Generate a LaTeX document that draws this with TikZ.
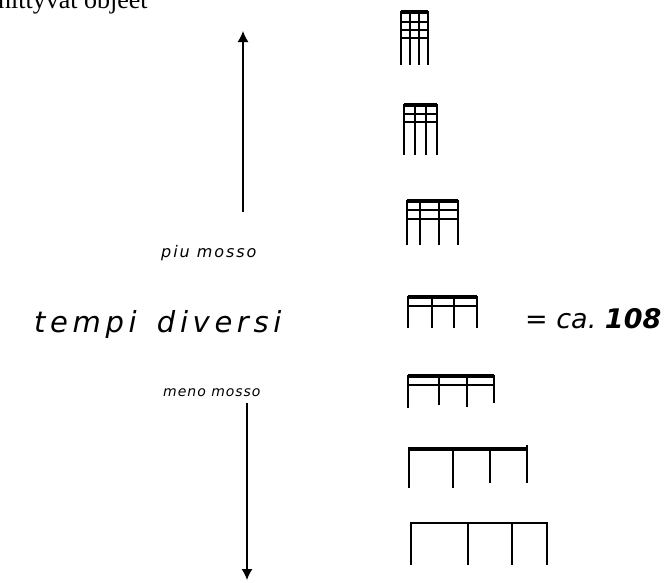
\documentclass[tikz,border=0pt]{standalone}
\usepackage{fontspec}
\usetikzlibrary{arrows.meta}
\newfontfamily\capfont{Liberation Serif}
\newfontfamily\handfont{DejaVu Sans}
\tikzset{
  stem/.style={line width=1.8pt},
  beam/.style={line width=2.8pt},
  heavybeam/.style={line width=4pt},
  tempoarrow/.style={line width=1.3pt,-{Latex[length=11pt,width=11pt]}},
  hand/.style={inner sep=0pt,anchor=base west,font=#1},
}
\begin{document}
\begin{tikzpicture}[x=1pt,y=-1pt]
\useasboundingbox (0,0) rectangle (671,582);

\node[inner sep=0pt,anchor=base west,font=\capfont\fontsize{26}{26}\selectfont] (caption) at (-2,8) {nittyvat objeet};

% arrows
\coordinate (upfoot) at (243,212);
\coordinate (uptip) at (243,31);
\coordinate (downfoot) at (247,403);
\coordinate (downtip) at (247,580);
\draw[tempoarrow] (upfoot) -- (uptip);
\draw[tempoarrow] (downfoot) -- (downtip);

\node[hand={\handfont\fontsize{16}{16}\selectfont\itshape\addfontfeature{LetterSpace=12}}] (piu) at (161,257) {piu mosso};
\node[hand={\handfont\fontsize{29}{29}\selectfont\itshape\addfontfeature{LetterSpace=16}}] (tempi) at (34,332) {tempi\hspace{0.7em}diversi};
\node[hand={\handfont\fontsize{14}{14}\selectfont\itshape\addfontfeature{LetterSpace=7}}] (meno) at (163,396) {meno mosso};
\node[hand={\handfont\fontsize{27}{27}\selectfont\itshape}] (mm) at (525,328) {= ca.\ \textbf{108}};

% figure 1
\draw[heavybeam] (401,12) -- (428,12);
\draw[beam] (401,22) -- (428,22);
\draw[beam] (401,30) -- (428,30);
\draw[beam] (401,38) -- (428,38);
\draw[stem] (401,11) -- (401,65);
\draw[stem] (410,11) -- (410,65);
\draw[stem] (419,11) -- (419,65);
\draw[stem] (428,11) -- (428,65);

% figure 2
\draw[heavybeam] (404,105) -- (437,105);
\draw[beam] (404,114) -- (437,114);
\draw[beam] (404,122) -- (437,122);
\draw[stem] (404,104) -- (404,155);
\draw[stem] (415,104) -- (415,155);
\draw[stem] (426,104) -- (426,155);
\draw[stem] (437,104) -- (437,155);

% figure 3
\draw[heavybeam] (407,201) -- (458,201);
\draw[beam] (407,210) -- (458,210);
\draw[beam] (407,219) -- (458,219);
\draw[stem] (407,200) -- (407,245);
\draw[stem] (420,200) -- (420,245);
\draw[stem] (439,200) -- (439,245);
\draw[stem] (458,200) -- (458,245);

% figure 4
\draw[heavybeam] (408,297) -- (477,297);
\draw[beam] (408,306) -- (477,306);
\draw[stem] (408,296) -- (408,328);
\draw[stem] (432,296) -- (432,328);
\draw[stem] (454,296) -- (454,328);
\draw[stem] (477,296) -- (477,328);

% figure 5
\draw[heavybeam] (408,376) -- (494,376);
\draw[beam] (408,385) -- (494,385);
\draw[stem] (408,375) -- (408,408);
\draw[stem] (439,375) -- (439,405);
\draw[stem] (467,375) -- (467,407);
\draw[stem] (494,375) -- (494,403);

% figure 6
\draw[line width=4.6pt] (409,449) -- (527,449);
\draw[stem] (409,447) -- (409,488);
\draw[stem] (453,447) -- (453,488);
\draw[stem] (490,447) -- (490,483);
\draw[stem] (527,445) -- (527,483);

% figure 7
\draw[beam] (411,523) -- (547,523);
\draw[stem] (411,522) -- (411,565);
\draw[stem] (468,522) -- (468,565);
\draw[stem] (512,522) -- (512,565);
\draw[stem] (547,522) -- (547,565);
\end{tikzpicture}
\end{document}
